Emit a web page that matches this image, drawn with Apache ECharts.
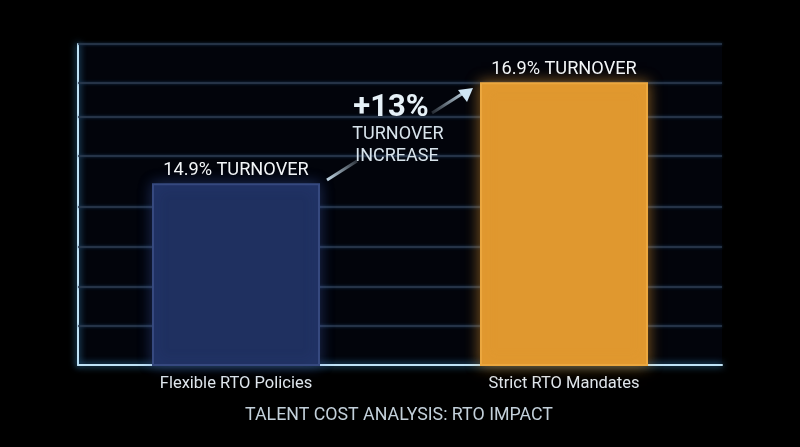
<!DOCTYPE html>
<html>
<head>
<meta charset="utf-8">
<style>
  html, body { margin: 0; padding: 0; background: #000; }
  #chart { width: 800px; height: 447px; }
</style>
<script src="https://cdn.jsdelivr.net/npm/echarts@6/dist/echarts.min.js"></script>
</head>
<body>
<div id="chart"></div>
<script>
// Chart data
var categories = ['Flexible RTO Policies', 'Strict RTO Mandates'];
var turnover = [14.9, 16.9];
var barColors = ['#1f3060', '#e0982f'];
var barBorders = ['#36497f', '#eba73f'];
var barGlows = ['rgba(70,100,190,0.4)', 'rgba(240,160,50,0.55)'];

// Truncated axis, guide lines are unevenly spaced in the picture
var axisMin = 11.3;
var axisMax = 17.66;
var guideLines = [12.07, 12.85, 13.64, 14.43, 15.44, 16.21, 16.9, 17.66];

var title = 'TALENT COST ANALYSIS: RTO IMPACT';
var calloutValue = '+13%';
var calloutLines = ['TURNOVER', 'INCREASE'];

var fontName = 'Roboto, sans-serif';
var chart = echarts.init(document.getElementById('chart'));

chart.setOption({
    animation: false,
    backgroundColor: '#000',
    textStyle: { fontFamily: fontName },

    // Grid 0 holds the bars, grid 1 the frame and guide lines
    grid: [
        { left: 72, right: 72, top: 44, bottom: 82 },
        { left: 78, right: 78, top: 44, bottom: 82, show: true, backgroundColor: '#02040b', borderWidth: 0 }
    ],

    xAxis: [
        {
            type: 'category',
            gridIndex: 0,
            data: categories,
            axisLine: { show: false },
            axisTick: { show: false },
            axisLabel: { color: '#dfe6ec', fontSize: 16.5, margin: 10, fontFamily: fontName }
        },
        {
            type: 'category',
            gridIndex: 1,
            data: categories,
            axisTick: { show: false },
            axisLabel: { show: false },
            axisLine: {
                lineStyle: { color: '#bfe2f5', width: 2, shadowBlur: 7, shadowColor: '#4aa8e8' }
            }
        }
    ],

    yAxis: [
        {
            type: 'value',
            gridIndex: 0,
            min: axisMin,
            max: axisMax,
            show: false,
            splitLine: { show: false }
        },
        {
            type: 'value',
            gridIndex: 1,
            min: axisMin,
            max: axisMax,
            axisLine: {
                show: true,
                lineStyle: { color: '#bfe2f5', width: 2, shadowBlur: 7, shadowColor: '#4aa8e8' }
            },
            axisTick: { show: false },
            axisLabel: { show: false },
            splitLine: { show: false }
        }
    ],

    series: [
        {
            // Guide lines only, no points of its own
            type: 'line',
            xAxisIndex: 1,
            yAxisIndex: 1,
            z: 1,
            data: [],
            markLine: {
                silent: true,
                z: 1,
                symbol: 'none',
                label: { show: false },
                lineStyle: { type: 'solid', color: '#2e3c50', width: 1.5, shadowBlur: 3, shadowColor: '#1f4066' },
                data: guideLines.map(function(v) { return { yAxis: v }; })
            }
        },
        {
            type: 'bar',
            xAxisIndex: 0,
            yAxisIndex: 0,
            z: 3,
            barWidth: 168,
            data: turnover.map(function(v, i) {
                return {
                    value: v,
                    itemStyle: {
                        color: barColors[i],
                        borderColor: barBorders[i],
                        borderWidth: 2,
                        shadowBlur: 14,
                        shadowColor: barGlows[i]
                    }
                };
            }),
            label: {
                show: true,
                position: 'top',
                distance: 4,
                color: '#f2f5f7',
                fontSize: 18.2,
                fontFamily: fontName,
                formatter: '{c}% TURNOVER'
            }
        }
    ],

    // Title, callout text and arrows
    graphic: [
        {
            type: 'text',
            z: 10,
            style: { x: 399, y: 416, text: title, fill: '#c3d0da', font: '17.8px ' + fontName, textAlign: 'center', textVerticalAlign: 'middle' }
        },
        {
            type: 'text',
            z: 10,
            style: { x: 391, y: 108, text: calloutValue, fill: '#e6f1f8', font: 'bold 31px ' + fontName, textAlign: 'center', textVerticalAlign: 'middle' }
        },
        {
            type: 'text',
            z: 10,
            style: { x: 398, y: 134, text: calloutLines[0], fill: '#d8e4ec', font: '18px ' + fontName, textAlign: 'center', textVerticalAlign: 'middle' }
        },
        {
            type: 'text',
            z: 10,
            style: { x: 397, y: 156, text: calloutLines[1], fill: '#d8e4ec', font: '18px ' + fontName, textAlign: 'center', textVerticalAlign: 'middle' }
        },
        {
            type: 'line',
            z: 10,
            shape: { x1: 327, y1: 180, x2: 357, y2: 161 },
            style: {
                lineWidth: 3,
                stroke: new echarts.graphic.LinearGradient(0, 1, 1, 0, [
                    { offset: 0, color: '#cfe6f5' },
                    { offset: 1, color: 'rgba(207,230,245,0.15)' }
                ])
            }
        },
        {
            type: 'line',
            z: 10,
            shape: { x1: 432, y1: 113, x2: 465, y2: 92 },
            style: {
                lineWidth: 3,
                stroke: new echarts.graphic.LinearGradient(0, 1, 1, 0, [
                    { offset: 0, color: 'rgba(207,230,245,0.1)' },
                    { offset: 1, color: '#cfe6f5' }
                ])
            }
        },
        {
            type: 'polygon',
            z: 10,
            shape: { points: [[473, 88], [458, 90], [467, 102]] },
            style: { fill: '#cfe6f5' }
        }
    ]
});
</script>
</body>
</html>
